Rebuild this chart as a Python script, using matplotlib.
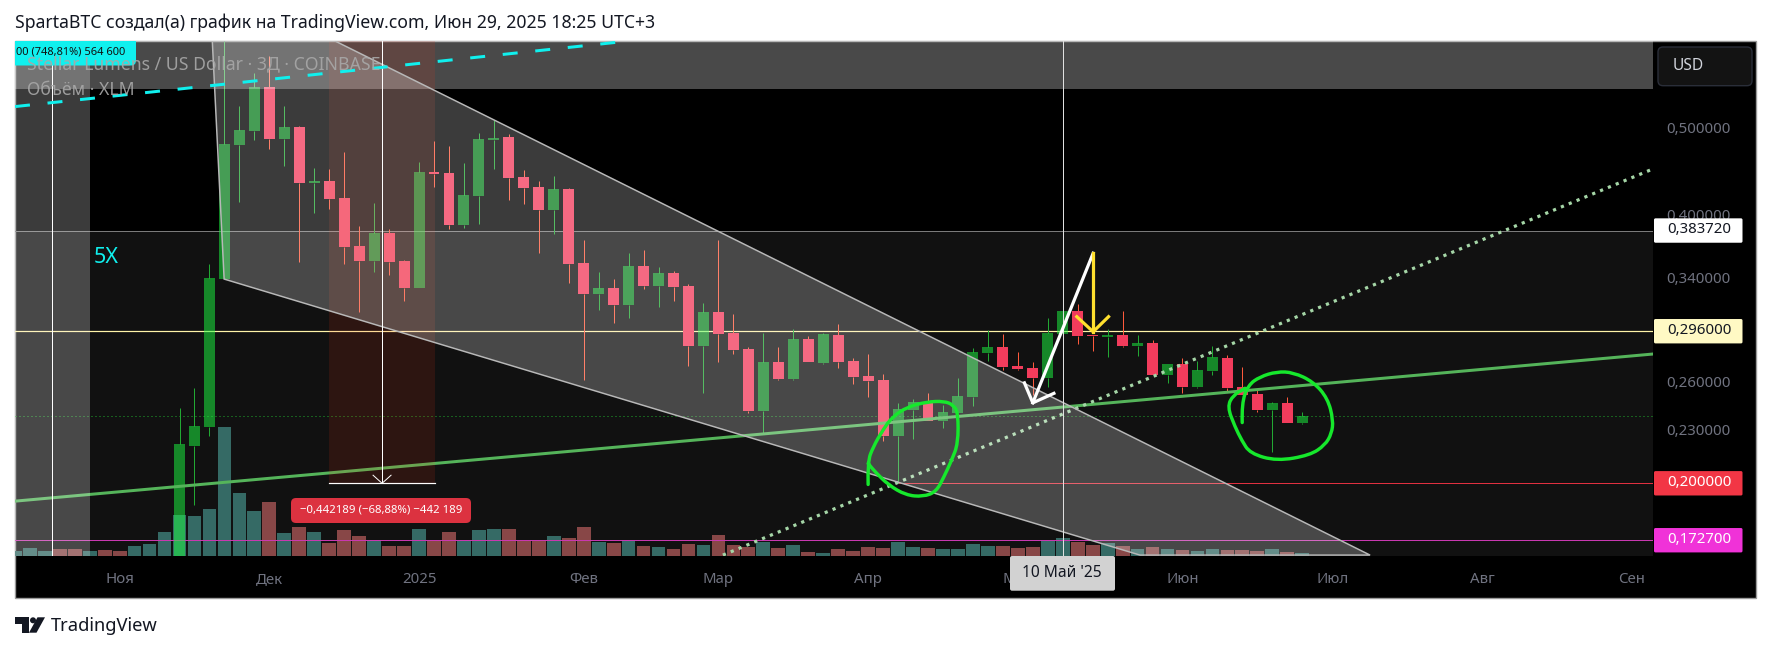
import numpy as np
import matplotlib

matplotlib.use("Agg")
import matplotlib.pyplot as plt
from matplotlib.colors import to_rgba
from matplotlib.patches import Circle, FancyBboxPatch, PathPatch, Polygon, Rectangle
from matplotlib.path import Path
from matplotlib.transforms import IdentityTransform

W, H = 1771, 652
FONT = "Noto Sans"

# ------------------------------------------------------------------ candles
opens = [.1500, .2201, .2313, .3386, .4784, .4961, .5557, .4858, .5012, .4337, .4359, .4173, .3688, .3547, .3813, .3547,
         .3309, .4463, .4451, .3892, .4195, .4845, .4883, .4405, .4293, .4047, .4271, .3529, .3258, .3309, .3167, .3502,
         .3326, .3439, .3326, .2849, .3110, .2947, .2827, .2409, .2733, .2616, .2901, .2726, .2931, .2740, .2637, .2609,
         .2259, .2416, .2466, .2347, .2396, .2498, .2798, .2842, .2706, .2692, .2623, .2939, .3118, .2931, .2916, .2931,
         .2849, .2871, .2644, .2719, .2563, .2671, .2762, .2563, .2517, .2416, .2459, .2335]
highs = [.2428, .2557, .3520, .6400, .5291, .5761, .6019, .5291, .5025, .4509, .4498, .4699, .3883, .4120, .3853, .3555,
         .4579, .4833, .4772, .4567, .4935, .5102, .4922, .4486, .4359, .4416, .4282, .3744, .3449, .3386, .3622, .3650,
         .3493, .3458, .3343, .3183, .3744, .3094, .2842, .2947, .2842, .2977, .2924, .2947, .3015, .2762, .2791, .2650,
         .2459, .2485, .2524, .2447, .2623, .2835, .2969, .2939, .2805, .2733, .3062, .3118, .3175, .2931, .2977, .3118,
         .2931, .2893, .2719, .2762, .2740, .2849, .2784, .2699, .2543, .2466, .2498, .2403]
lows = [.1500, .1891, .2259, .3386, .4130, .4845, .4736, .4532, .3538, .4015, .4057, .3520, .3110, .3449, .3422, .3199,
        .3309, .4293, .3853, .3863, .3902, .4498, .4151, .4109, .3622, .3803, .3352, .2609, .3127, .3023, .3062, .3301,
        .3151, .3199, .2706, .2524, .2733, .2791, .2396, .2276, .2609, .2609, .2733, .2719, .2692, .2583, .2498, .2229,
        .2001, .2241, .2347, .2306, .2396, .2441, .2740, .2678, .2678, .2511, .2563, .2939, .2864, .2813, .2769, .2842,
        .2776, .2644, .2589, .2524, .2557, .2644, .2537, .2511, .2403, .2167, .2335, .2329]
closes = [.2212, .2318, .3395, .4796, .4974, .5557, .4858, .5012, .4337, .4359, .4162, .3678, .3547, .3813, .3538, .3309,
          .4463, .4440, .3892, .4206, .4858, .4870, .4393, .4282, .4047, .4271, .3520, .3258, .3309, .3167, .3502, .3326,
          .3439, .3318, .2849, .3110, .2939, .2820, .2409, .2733, .2616, .2901, .2733, .2939, .2733, .2630, .2602, .2259,
          .2422, .2466, .2347, .2403, .2504, .2805, .2842, .2699, .2685, .2623, .2947, .3118, .2924, .2924, .2931, .2849,
          .2871, .2644, .2719, .2563, .2678, .2769, .2557, .2511, .2416, .2459, .2335, .2378]

# volume starts 11 bars before the first visible candle
volume = [13, 22, 13, 19, 19, 13, 16, 13, 28, 34, 70,
          121, 118, 139, 385, 187, 133, 160, 67, 85, 70, 37, 76, 58, 43, 28, 28, 79, 46, 70, 46, 76, 79, 79, 46, 46, 58,
          52, 85, 40, 38, 47, 29, 26, 20, 35, 32, 62, 32, 26, 41, 23, 32, 12, 7, 20, 15, 26, 23, 41, 26, 23, 20, 20, 35,
          29, 28, 22, 25, 43, 52, 40, 31, 37, 28, 19, 25, 19, 18, 15, 21, 18, 18, 15, 21, 12, 9]
early_volume_up = [True, True, True, False, False, True, False, False, True, True, True]

# ------------------------------------------------------------------ levels and drawings (bar index, price)
level_high = 0.38372
level_yellow = 0.296
level_red = 0.2
level_pink = 0.1727
level_dotted = 0.2376

X_MIN, X_MAX = -10.99, 98.43
Y_MIN, Y_MAX = 0.1659, 0.6250

green_line_x = [X_MIN, X_MAX]
green_line_y = [.1910, .2791]
cyan_line_x = [X_MIN, 29.43]
cyan_line_y = [.5282, .6240]
dotted_line_x = [36.3, X_MAX]
dotted_line_y = [.1662, .4498]
channel_x = [2.19, 2.98, 64.16, 79.53, 10.39]
channel_y = [.6255, .3386, .1662, .1662, .6255]

white_arrow_x = [61.03, 57.0]
white_arrow_y = [.3619, .2461]
white_head_x = [56.44, 57.0, 58.41]
white_head_y = [.2591, .2461, .2522]
yellow_arrow_x = [61.03, 61.03]
yellow_arrow_y = [.3619, .2956]
yellow_head_x = [59.94, 61.03, 62.06]
yellow_head_y = [.3073, .2956, .3073]

loop1_x = [46.0, 45.96, 46.34, 46.98, 47.62, 48.64, 49.92, 51.07, 51.71, 52.01, 52.01, 51.58, 51.07, 50.55, 49.67,
           48.51, 47.36, 46.46, 46.0]
loop1_y = [.1994, .2113, .2197, .2294, .2374, .2436, .2467, .2472, .2447, .2395, .2216, .2122, .2034, .1957, .1932,
           .1940, .1991, .2060, .2105]
loop2_x = [70.99, 70.95, 71.39, 72.17, 73.3, 74.4, 75.74, 76.7, 77.07, 76.96, 76.52, 75.52, 73.3, 71.51, 70.95,
           70.51, 69.99, 70.39, 71.17]
loop2_y = [.2339, .2457, .2576, .2632, .2667, .2662, .2598, .2489, .2353, .2273, .2207, .2150, .2118, .2160, .2235,
           .2313, .2436, .2511, .2555]

# ------------------------------------------------------------------ axis labels
month_bars = [-4, 6, 16, 27, 36, 46, 56, 67, 77, 87, 97]
month_labels = ["Ноя", "Дек", "2025", "Фев", "Мар", "Апр", "Май", "Июн", "Июл", "Авг", "Сен"]
price_ticks = [0.5, 0.4, 0.34, 0.296, 0.26, 0.23]
price_labels = ["0,500000", "0,400000", "0,340000", "0,296000", "0,260000", "0,230000"]

# ------------------------------------------------------------------ layout in pixels
PLOT_L, PLOT_R, PLOT_T, PLOT_B = 15, 1653, 41.3, 555.8
FRAME_R, FRAME_B = 1756, 598


def px(n):
    return n * 0.72


def fig_text(fig, x, y, s, **kw):
    kw.setdefault("family", FONT)
    kw.setdefault("va", "center")
    return fig.text(x / W, 1 - y / H, s, **kw)


def round_box(fig, x0, y0, x1, y1, r, fc, ec="none", z=6, lw=0):
    box = FancyBboxPatch((x0 + r, H - y1 + r), x1 - x0 - 2 * r, y1 - y0 - 2 * r,
                         boxstyle=f"round,pad={r},rounding_size={r}", fc=fc, ec=ec, lw=lw,
                         transform=IdentityTransform(), zorder=z)
    fig.add_artist(box)
    return box


def draw_loop(ax, xs, ys):
    # rounded pen stroke: each read point is a control point of a quadratic curve
    pts = list(zip(xs, ys))
    verts = [pts[0]]
    codes = [Path.MOVETO]
    for a, b in zip(pts[1:-1], pts[2:]):
        verts += [a, ((a[0] + b[0]) / 2, (a[1] + b[1]) / 2)]
        codes += [Path.CURVE3, Path.CURVE3]
    verts.append(pts[-1])
    codes.append(Path.LINETO)
    ax.add_patch(PathPatch(Path(verts, codes), fc="none", ec="#16e82c", lw=px(3.4), capstyle="round", zorder=6))


plt.rcParams["font.family"] = [FONT, "DejaVu Sans"]
fig = plt.figure(figsize=(W / 100, H / 100), dpi=100, facecolor="white")

# black frame around chart and both axes
fig.add_artist(Rectangle((PLOT_L, H - FRAME_B), FRAME_R - PLOT_L, FRAME_B - PLOT_T, fc="black", ec="#9a9a9a", lw=1.0,
                         transform=IdentityTransform(), zorder=-1))

pos = [PLOT_L / W, 1 - PLOT_B / H, (PLOT_R - PLOT_L) / W, (PLOT_B - PLOT_T) / H]
ax_vol = fig.add_axes(pos, zorder=1, facecolor="black")
ax = fig.add_axes(pos, zorder=2)
ax.patch.set_visible(False)

o, h, l, c = map(np.array, (opens, highs, lows, closes))
bars = np.arange(len(o))
up = c >= o
body_top = np.maximum(o, c)
body_low = np.minimum(o, c)

# volume sits under everything else, on its own linear scale
vol_bars = np.arange(len(volume)) - len(early_volume_up)
vol_up = list(early_volume_up) + list(up)
ax_vol.bar(vol_bars, volume, width=0.92, color=["#265f5a" if u else "#803a3a" for u in vol_up])
ax_vol.set_xlim(X_MIN, X_MAX)
ax_vol.set_ylim(0, (PLOT_B - PLOT_T) * 3)
ax_vol.axis("off")

ax.set_yscale("log")
ax.set_xlim(X_MIN, X_MAX)
ax.set_ylim(Y_MIN, Y_MAX)

# candles; green bodies are see-through, so wicks stop at the body
wick_cols = ["#22a833" if u else "#ff5a3c" for u in up]
body_cols = [to_rgba("#1cff42", 0.5) if u else "#f23c5c" for u in up]
ax.vlines(bars, body_top, h, colors=wick_cols, lw=px(1), zorder=3)
ax.vlines(bars, l, body_low, colors=wick_cols, lw=px(1), zorder=3)
ax.bar(bars, body_top - body_low, bottom=body_low, width=0.73, color=body_cols, zorder=3.1)

# price levels
ax.axhline(level_high, color="#7a7a7a", lw=px(1), zorder=2)
ax.axhline(level_yellow, color="#fff3a8", lw=px(1.2), zorder=2)
ax.axhline(level_pink, color="#c838b0", lw=px(1), zorder=2)
ax.plot([48.05, X_MAX], [level_red, level_red], color="#e03040", lw=px(1), zorder=2)
ax.axhline(level_dotted, color="#1fae2c", lw=px(1), ls=(0, (1, 3)), zorder=2)

# trend lines stay under the shaded zones
ax.plot(green_line_x, green_line_y, color="#55b45a", lw=px(3), zorder=3.5)
ax.plot(dotted_line_x, dotted_line_y, color="#a5d6a7", lw=px(3.2), ls=(0, (1, 1.65)), zorder=3.5)

# shaded zones
ax.axhspan(Y_MIN, level_high, color="white", alpha=0.07, lw=0, zorder=1)
ax.axhspan(0.5521, Y_MAX, color="white", alpha=0.29, lw=0, zorder=4)
ax.axvspan(X_MIN, -5.98, color="white", alpha=0.235, lw=0, zorder=4)
ax.add_patch(Rectangle((9.99, level_red), 17.06 - 9.99, 0.642 - level_red, fc=(1, 0.2, 0.08, 0.12), ec="none", zorder=4))
ax.add_patch(Polygon(list(zip(channel_x, channel_y)), closed=True, fc=(1, 1, 1, 0.235), ec="#b8b8b8", lw=px(1.5),
                     zorder=4.1))

# white vertical markers
ax.axvline(-8.49, color="white", lw=px(1), zorder=5)
ax.axvline(59.05, color="#e0e0e0", lw=px(1), zorder=5)

# measure tool in the red zone
ax.plot([13.53, 13.53], [level_red, 0.642], color="white", lw=px(1), zorder=5)
ax.plot([9.99, 17.06], [level_red, level_red], color="white", lw=px(1.2), zorder=5)
ax.plot([12.93, 13.53, 14.13], [0.2042, level_red, 0.2042], color="white", lw=px(1), zorder=5)

# hand drawings
ax.plot(cyan_line_x, cyan_line_y, color="#10f0ee", lw=px(3), ls=(0, (5, 5.9)), dash_capstyle="butt", zorder=6)
draw_loop(ax, loop1_x, loop1_y)
draw_loop(ax, loop2_x, loop2_y)
ax.plot(white_arrow_x, white_arrow_y, color="white", lw=px(3.2), zorder=6)
ax.plot(white_head_x, white_head_y, color="white", lw=px(3.2), zorder=6)
ax.plot(yellow_arrow_x, yellow_arrow_y, color="#ffe02e", lw=px(3.2), zorder=6)
ax.plot(yellow_head_x, yellow_head_y, color="#ffe02e", lw=px(3.2), zorder=6)

# clipped change tag, top left
ax.add_patch(FancyBboxPatch((5, H - 65.5 + 5), 131 - 5, 65.5 - 41 - 5, boxstyle="round,pad=5,rounding_size=5", fc="#10f0ee",
                            ec="none", transform=IdentityTransform(), zorder=7))
ax.text(0.0005, 0.9785, "00 (748,81%) 564 600", transform=ax.transAxes, color="#111111", fontsize=7.95, va="center",
        ha="left", zorder=7.5, clip_on=True)
ax.text(0.0075, 0.9559, "Stellar Lumens / US Dollar · 3Д · COINBASE", transform=ax.transAxes, color="#a8a8a8", alpha=0.9,
        fontsize=12.7, va="center", zorder=8)
ax.text(0.0075, 0.9053, "Объём · XLM", transform=ax.transAxes, color="#a8a8a8", alpha=0.9, fontsize=12.7, va="center",
        zorder=8)
ax.text(-4.9, 0.3575, "5X", color="#10f0ee", fontsize=15.5, va="center", ha="center", zorder=8)

# axis ticks
ax.minorticks_off()
ax.set_xticks(month_bars)
ax.set_xticklabels(month_labels)
ax.set_yticks(price_ticks)
ax.set_yticklabels(price_labels)
ax.yaxis.tick_right()
ax.tick_params(axis="x", length=0, pad=12, labelsize=10.8, labelcolor="#707380")
ax.tick_params(axis="y", length=0, pad=9.5, labelsize=10.8, labelcolor="#707380", which="both")
for s in ax.spines.values():
    s.set_visible(False)

# price tags on the right axis
tags = [(level_high, "0,383720", "white", "#131722"),
        (level_yellow, "0,296000", "#fff9c4", "#131722"),
        (level_red, "0,200000", "#f23645", "white"),
        (level_pink, "0,172700", "#f032d8", "white")]
for price, label, bg, fg in tags:
    yc = H - ax.transData.transform((0, price))[1]
    round_box(fig, 1654, yc - 12.2, 1742.5, yc + 12.2, 1.5, bg, z=5)
    fig_text(fig, 1667, yc - 1, label, color=fg, fontsize=10.8, ha="left", zorder=6)

# USD button, date tooltip and measure pill
round_box(fig, 1658, 47, 1752, 85.7, 5, "#131313", ec="#2a2e39", lw=1.0, z=5)
fig_text(fig, 1673, 66, "USD", color="#d1d4dc", fontsize=11.2, ha="left", zorder=6)
round_box(fig, 1010, 556, 1115, 590.7, 2, "#d2d2d2", z=5)
fig_text(fig, 1062, 573, "10 Май '25", color="#131722", fontsize=11.2, ha="center", zorder=6)
round_box(fig, 291, 498, 471, 523, 5, "#dc3240", z=5)
fig_text(fig, 381, 510, "−0,442189 (−68,88%) −442 189", color="white", fontsize=8.2, ha="center", weight="bold", zorder=6)

# header and footer
fig_text(fig, 15, 23, "SpartaBTC создал(а) график на TradingView.com, Июн 29, 2025 18:25 UTC+3", color="#131722",
         fontsize=12.7, ha="left")
logo_t = Polygon([(15, H - 617.3), (28.7, H - 617.3), (28.7, H - 632.7), (22.2, H - 632.7), (22.2, H - 623.5),
                  (15, H - 623.5)], fc="#131722", ec="none", transform=IdentityTransform())
logo_s = Polygon([(37.5, H - 617.3), (45, H - 617.3), (36.5, H - 632.7), (29, H - 632.7)], fc="#131722", ec="none",
                 transform=IdentityTransform())
logo_c = Circle((33, H - 620.3), 3, fc="#131722", ec="none", transform=IdentityTransform())
for art in (logo_t, logo_s, logo_c):
    fig.add_artist(art)
fig_text(fig, 50.5, 626, "TradingView", color="#131722", fontsize=13.2, ha="left")

fig.savefig("out.png", dpi=100, facecolor="white")
